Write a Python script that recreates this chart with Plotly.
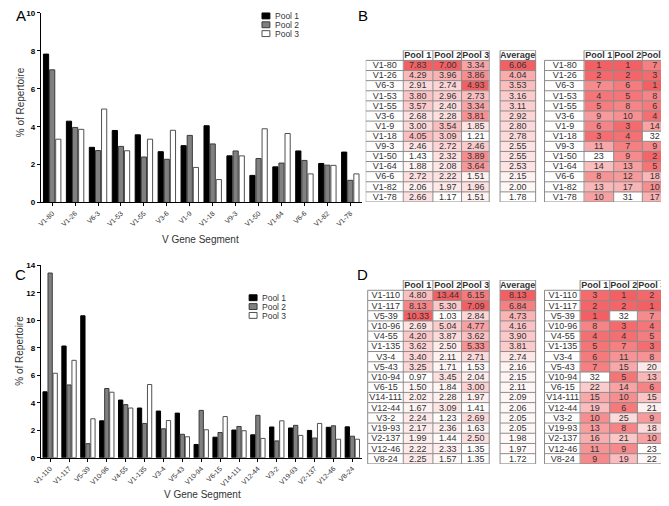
"""
V gene usage per pool: bar charts (A, C) and heat-mapped tables (B, D)
"""
import plotly.graph_objects as go

# Panel A / B data
genes_ab = ['V1-80', 'V1-26', 'V6-3', 'V1-53', 'V1-55', 'V3-6', 'V1-9', 'V1-18',
            'V9-3', 'V1-50', 'V1-64', 'V6-6', 'V1-82', 'V1-78']
pool1_ab = [7.83, 4.29, 2.91, 3.80, 3.57, 2.68, 3.00, 4.05, 2.46, 1.43, 1.88, 2.72, 2.06, 2.66]
pool2_ab = [7.00, 3.96, 2.74, 2.96, 2.40, 2.28, 3.54, 3.09, 2.72, 2.32, 2.08, 2.22, 1.97, 1.17]
pool3_ab = [3.34, 3.86, 4.93, 2.73, 3.34, 3.81, 1.85, 1.21, 2.46, 3.89, 3.64, 1.51, 1.96, 1.51]
avg_ab = [6.06, 4.04, 3.53, 3.16, 3.11, 2.92, 2.80, 2.78, 2.55, 2.55, 2.53, 2.15, 2.00, 1.78]
rank1_ab = [1, 2, 7, 4, 5, 9, 6, 3, 11, 23, 14, 8, 13, 10]
rank2_ab = [1, 2, 6, 5, 8, 10, 3, 4, 7, 9, 13, 12, 17, 31]
rank3_ab = [7, 3, 1, 8, 6, 4, 14, 32, 9, 2, 5, 18, 10, 17]

# Panel C / D data
genes_cd = ['V1-110', 'V1-117', 'V5-39', 'V10-96', 'V4-55', 'V1-135', 'V3-4', 'V5-43',
            'V10-94', 'V6-15', 'V14-111', 'V12-44', 'V3-2', 'V19-93', 'V2-137',
            'V12-46', 'V8-24']
pool1_cd = [4.80, 8.13, 10.33, 2.69, 4.20, 3.62, 3.40, 3.25, 0.97, 1.50, 2.02, 1.67,
            2.24, 2.17, 1.99, 2.22, 2.25]
pool2_cd = [13.44, 5.30, 1.03, 5.04, 3.87, 2.50, 2.11, 1.71, 3.45, 1.84, 2.28, 3.09,
            1.23, 2.36, 1.44, 2.33, 1.57]
pool3_cd = [6.15, 7.09, 2.84, 4.77, 3.62, 5.33, 2.71, 1.53, 2.04, 3.00, 1.97, 1.41,
            2.69, 1.63, 2.50, 1.35, 1.35]
avg_cd = [8.13, 6.84, 4.73, 4.16, 3.90, 3.81, 2.74, 2.16, 2.15, 2.11, 2.09, 2.06,
          2.05, 2.05, 1.98, 1.97, 1.72]
rank1_cd = [3, 2, 1, 8, 4, 5, 6, 7, 32, 22, 15, 19, 10, 13, 16, 11, 9]
rank2_cd = [1, 2, 32, 3, 4, 7, 11, 15, 5, 14, 10, 6, 25, 8, 21, 9, 19]
rank3_cd = [2, 1, 7, 4, 5, 3, 8, 20, 13, 6, 15, 21, 9, 18, 10, 23, 22]

pool_names = ['Pool 1', 'Pool 2', 'Pool 3']

# page body has an 8px margin, so the figure is drawn 8px in from the corner
OFF = 8
FW, FH = 669 - OFF, 506 - OFF
FONT = 'Liberation Sans, Arial, sans-serif'
GRID = '#8c8c8c'
TEXT = '#333333'
HEAT = [[0, 'white'], [1, 'rgb(243,96,99)']]

BAR_STYLE = [
    dict(color='black', line=dict(color='black', width=1)),
    dict(color='#808080', line=dict(color='#3a3a3a', width=1)),
    dict(color='white', line=dict(color='#505050', width=1)),
]


def px_x(x):
    return (x - OFF) / FW


def px_y(y):
    return 1 - (y - OFF) / FH


def norm(values, reverse=False):
    """0..1 per column, like an Excel white-red colour scale"""
    lo, hi = min(values), max(values)
    t = [(v - lo) / (hi - lo) for v in values]
    return [1 - v for v in t] if reverse else t


def label(text, x, y, size, color=TEXT, **kw):
    fig.add_annotation(text=text, x=px_x(x), y=px_y(y), xref='paper', yref='paper',
                       showarrow=False, font=dict(family=FONT, size=size, color=color),
                       **{'xanchor': 'center', 'yanchor': 'middle', **kw})


fig = go.Figure()

# ---- bar charts ----
for pools, genes, xa, ya in [((pool1_ab, pool2_ab, pool3_ab), genes_ab, 'x', 'y'),
                             ((pool1_cd, pool2_cd, pool3_cd), genes_cd, 'x2', 'y2')]:
    for name, vals, style in zip(pool_names, pools, BAR_STYLE):
        fig.add_trace(go.Bar(
            x=genes, y=vals, name=name, marker=style,
            xaxis=xa, yaxis=ya, showlegend=False,
            hovertemplate='<b>%{x}</b><br>' + name + ': %{y:.2f}%<extra></extra>'
        ))


# ---- tables drawn as heatmaps + border lines ----
def add_block(xa, ya, edges, labels, columns, heads, fmt, reverse=False):
    n = len(columns[0])
    has_label = labels is not None
    z, text = [], []
    z.append(([None] if has_label else []) + [0] * len(columns))
    text.append(([''] if has_label else []) + [f'<b>{h}</b>' for h in heads])
    scaled = [norm(c, reverse) for c in columns]
    for i in range(n):
        z.append(([0] if has_label else []) + [s[i] for s in scaled])
        text.append(([labels[i]] if has_label else []) + [fmt(c[i]) for c in columns])

    fig.add_trace(go.Heatmap(
        x=edges, y=list(range(n + 1)), z=z, text=text, texttemplate='%{text}',
        textfont=dict(family=FONT, size=9, color=TEXT),
        colorscale=HEAT, zmin=0, zmax=1, showscale=False, hoverinfo='skip',
        xaxis=xa, yaxis=ya
    ))

    lx, ly = [], []
    for k in range(n + 2):
        x0 = edges[1] if (k == 0 and has_label) else edges[0]
        lx += [x0, edges[-1], None]
        ly += [k - 0.5, k - 0.5, None]
    for i, e in enumerate(edges):
        y0 = 0.5 if (i == 0 and has_label) else -0.5
        lx += [e, e, None]
        ly += [y0, n + 0.5, None]
    fig.add_trace(go.Scatter(
        x=lx, y=ly, mode='lines', line=dict(color=GRID, width=1),
        hoverinfo='skip', showlegend=False, cliponaxis=False, xaxis=xa, yaxis=ya
    ))


def add_tables(xa, ya, genes, pools, avg, ranks, left_edges, right_edges):
    add_block(xa, ya, left_edges, genes, pools, pool_names, lambda v: f'{v:.2f}')
    add_block(xa, ya, [498, 534], None, [avg], ['Average'], lambda v: f'{v:.2f}')
    add_block(xa, ya, right_edges, genes, ranks, pool_names, str, reverse=True)


add_tables('x3', 'y3', genes_ab, (pool1_ab, pool2_ab, pool3_ab), avg_ab,
           (rank1_ab, rank2_ab, rank3_ab),
           [362, 400, 430, 459, 487], [543, 583, 613, 642, 668])
add_tables('x4', 'y4', genes_cd, (pool1_cd, pool2_cd, pool3_cd), avg_cd,
           (rank1_cd, rank2_cd, rank3_cd),
           [364, 400, 430, 459, 487], [543, 579, 609, 637, 665])

# ---- axes ----
xcommon = dict(showline=True, linecolor='black', linewidth=1, ticks='outside', ticklen=3,
               tickcolor='black', tickangle=-45, showgrid=False,
               tickfont=dict(family=FONT, size=7, color=TEXT))
ycommon = dict(showline=True, linecolor='black', linewidth=1, ticks='outside', ticklen=3,
               tickcolor='black', dtick=2, showgrid=False, zeroline=False,
               tickfont=dict(family=FONT, size=8, color='black', weight='bold'))
hidden = dict(visible=False, showgrid=False, zeroline=False)

top_b, row_b = 47, 10.3
top_d, row_d = 281, 10.4
nb, nd = len(genes_ab), len(genes_cd)

fig.update_layout(
    width=FW, height=FH,
    margin=dict(l=0, r=0, t=0, b=0),
    paper_bgcolor='white', plot_bgcolor='white',
    barmode='group', bargap=0.2, bargroupgap=0.15,
    showlegend=False,
    xaxis=dict(domain=[px_x(33), px_x(358)], anchor='y', **xcommon),
    yaxis=dict(domain=[px_y(202), px_y(9)], anchor='x', range=[0, 10], **ycommon),
    xaxis2=dict(domain=[px_x(33), px_x(358)], anchor='y2', **xcommon),
    yaxis2=dict(domain=[px_y(462), px_y(266)], anchor='x2', range=[0, 14], **ycommon),
    xaxis3=dict(domain=[px_x(362), px_x(668)], range=[362, 668], anchor='y3', **hidden),
    yaxis3=dict(domain=[px_y(top_b + row_b * (nb + 1)), px_y(top_b)],
                range=[nb + 0.5, -0.5], anchor='x3', **hidden),
    xaxis4=dict(domain=[px_x(362), px_x(668)], range=[362, 668], anchor='y4', **hidden),
    yaxis4=dict(domain=[px_y(top_d + row_d * (nd + 1)), px_y(top_d)],
                range=[nd + 0.5, -0.5], anchor='x4', **hidden),
)

# ---- axis titles ----
for x, y in [(195, 240), (197, 499)]:
    label('V Gene Segment', x, y, 10)
for x, y in [(12, 100), (12, 353)]:
    label('% of Repertoire', x, y, 10, textangle=-90)

# ---- panel letters ----
for letter, x, y in [('A', 13, 12), ('B', 359, 12), ('C', 13, 275), ('D', 359, 275)]:
    label(letter, x, y, 15, color='black')

# ---- hand-drawn legends (tight spacing like the original) ----
for lx, ly in [(257, 12), (244, 299)]:
    for i, (name, style) in enumerate(zip(pool_names, BAR_STYLE)):
        cy = ly + i * 9
        fig.add_shape(type='rect', xref='paper', yref='paper',
                      x0=px_x(lx), x1=px_x(lx + 8), y0=px_y(cy + 3), y1=px_y(cy - 3),
                      fillcolor=style['color'], line=dict(color=style['line']['color'], width=1))
        label(name, lx + 11, cy, 8.5, xanchor='left', height=9)

fig.write_html("out.html")
